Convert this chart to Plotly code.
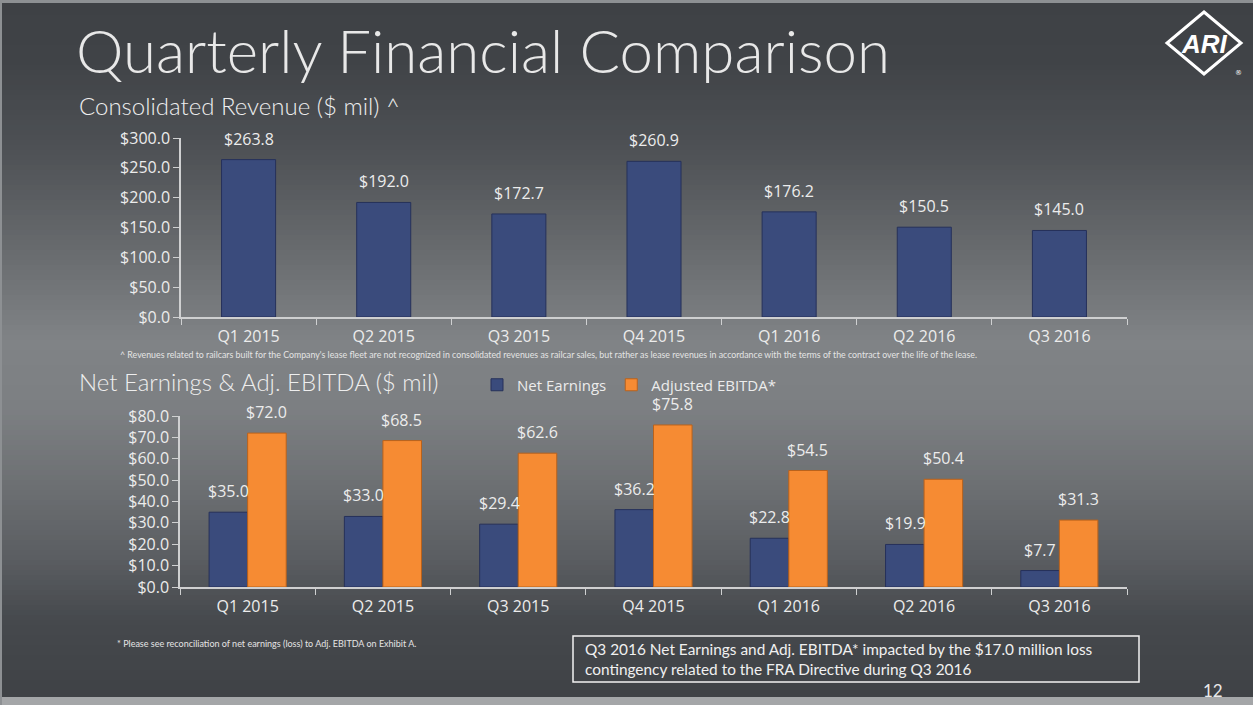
import plotly.graph_objects as go

quarters = ["Q1 2015", "Q2 2015", "Q3 2015", "Q4 2015", "Q1 2016", "Q2 2016", "Q3 2016"]
revenue = [263.8, 192.0, 172.7, 260.9, 176.2, 150.5, 145.0]
net_earnings = [35.0, 33.0, 29.4, 36.2, 22.8, 19.9, 7.7]
adj_ebitda = [72.0, 68.5, 62.6, 75.8, 54.5, 50.4, 31.3]
rev_ticks = [0, 50, 100, 150, 200, 250, 300]
earn_ticks = [0, 10, 20, 30, 40, 50, 60, 70, 80]

W, H = 1253, 705
NAVY = "#3a4b7c"
NAVY_LINE = "#26315a"
ORANGE = "#f68b33"
ORANGE_LINE = "#b9621c"
TXT = "#ececec"
AXC = "#cfd0d1"
TICKFONT = dict(family="Open Sans", size=16, color=TXT)
HEADFONT = "Lato"


def py(px):
    return 1 - px / H


def px_x(px):
    return px / W


fig = go.Figure()

fig.add_trace(go.Bar(
    x=quarters, y=revenue, xaxis="x", yaxis="y", showlegend=False,
    width=0.4, marker=dict(color=NAVY, line=dict(color=NAVY_LINE, width=1)),
    hoverinfo="skip"))
fig.add_trace(go.Bar(
    x=quarters, y=net_earnings, xaxis="x2", yaxis="y2", name="Net Earnings",
    width=0.285, offset=-0.285,
    marker=dict(color=NAVY, line=dict(color=NAVY_LINE, width=1))))
fig.add_trace(go.Bar(
    x=quarters, y=adj_ebitda, xaxis="x2", yaxis="y2", name="Adjusted EBITDA*",
    width=0.285, offset=0.0,
    marker=dict(color=ORANGE, line=dict(color=ORANGE_LINE, width=1))))

ann = []
for q, v in zip(quarters, revenue):
    ann.append(dict(x=q, y=v, xref="x", yref="y", text=f"${v:.1f}", showarrow=False,
                    yanchor="bottom", yshift=8, font=TICKFONT))
for q, v in zip(quarters, net_earnings):
    ann.append(dict(x=q, y=v, xref="x2", yref="y2", text=f"${v:.1f}", showarrow=False,
                    yanchor="bottom", yshift=8, xshift=-19, font=TICKFONT))
for q, v in zip(quarters, adj_ebitda):
    ann.append(dict(x=q, y=v, xref="x2", yref="y2", text=f"${v:.1f}", showarrow=False,
                    yanchor="bottom", yshift=8, xshift=19, font=TICKFONT))

# slide texts
ann += [
    dict(x=px_x(74), y=py(50), xref="paper", yref="paper", xanchor="left", yanchor="middle",
         text="Quarterly Financial Comparison", showarrow=False,
         font=dict(family=HEADFONT, size=60, color="#e8e8e8", weight=300)),
    dict(x=px_x(77), y=py(105), xref="paper", yref="paper", xanchor="left", yanchor="middle",
         text="Consolidated Revenue ($ mil) ^", showarrow=False,
         font=dict(family=HEADFONT, size=24, color="#eeeeee", weight=300)),
    dict(x=px_x(77), y=py(381), xref="paper", yref="paper", xanchor="left", yanchor="middle",
         text="Net Earnings &amp; Adj. EBITDA ($ mil)", showarrow=False,
         font=dict(family=HEADFONT, size=24, color="#eeeeee", weight=300)),
    dict(x=px_x(548), y=py(355), xref="paper", yref="paper", xanchor="center", yanchor="middle",
         text="^ Revenues related to railcars built for the Company's lease fleet are not recognized in consolidated revenues as railcar sales, but rather as lease revenues in accordance with the terms of the contract over the life of the lease.",
         showarrow=False, font=dict(family=HEADFONT, size=8.8, color="#e4e4e4")),
    dict(x=px_x(115), y=py(643), xref="paper", yref="paper", xanchor="left", yanchor="middle",
         text="* Please see reconciliation of net earnings (loss) to Adj. EBITDA on Exhibit A.",
         showarrow=False, font=dict(family=HEADFONT, size=9, color="#e4e4e4")),
    dict(x=px_x(583), y=py(659), xref="paper", yref="paper", xanchor="left", yanchor="middle",
         align="left",
         text="Q3 2016 Net Earnings and Adj. EBITDA* impacted by the $17.0 million loss<br>contingency related to the FRA Directive during Q3 2016",
         showarrow=False, font=dict(family=HEADFONT, size=15.4, color="#f0f0f0")),
    dict(x=px_x(1213), y=py(690), xref="paper", yref="paper", xanchor="center", yanchor="middle",
         text="12", showarrow=False, font=dict(family=HEADFONT, size=17, color="#e8e8e8")),
    dict(x=px_x(1204), y=py(44), xref="paper", yref="paper", xanchor="center", yanchor="middle",
         text="<b><i>ARI</i></b>", showarrow=False,
         font=dict(family="Liberation Sans", size=26, color="#ffffff")),
    dict(x=px_x(1238), y=py(73), xref="paper", yref="paper", xanchor="center", yanchor="middle",
         text="®", showarrow=False, font=dict(family="DejaVu Sans", size=7, color="#ffffff")),
]

# background gradient (style only)
stops = [(0, (62, 65, 69)), (60, (64, 67, 71)), (150, (78, 81, 85)), (250, (104, 107, 110)),
         (340, (128, 131, 134)), (410, (124, 127, 130)), (480, (110, 113, 116)),
         (560, (90, 93, 97)), (620, (70, 73, 77)), (705, (62, 65, 69))]


def col_at(y):
    for (y0, c0), (y1, c1) in zip(stops[:-1], stops[1:]):
        if y0 <= y <= y1:
            t = (y - y0) / (y1 - y0)
            c = [round(a + (b - a) * t) for a, b in zip(c0, c1)]
            return "rgb(%d,%d,%d)" % tuple(c)
    return "rgb(62,65,69)"


shapes = []
step = 5
for y in range(0, H, step):
    shapes.append(dict(type="rect", xref="paper", yref="paper", x0=0, x1=1,
                       y0=py(y + step + 0.5), y1=py(y), fillcolor=col_at(y + step / 2),
                       line=dict(width=0), layer="below"))
# slide edges
shapes.append(dict(type="rect", xref="paper", yref="paper", x0=0, x1=1, y0=py(3), y1=1,
                   fillcolor="#8d9093", line=dict(width=0), layer="below"))
shapes.append(dict(type="rect", xref="paper", yref="paper", x0=0, x1=1, y0=0, y1=py(697),
                   fillcolor="#a4a6a8", line=dict(width=0), layer="below"))
shapes.append(dict(type="rect", xref="paper", yref="paper", x0=0, x1=px_x(2), y0=0, y1=1,
                   fillcolor="#8d9093", line=dict(width=0), layer="below"))
# note box
shapes.append(dict(type="rect", xref="paper", yref="paper", x0=px_x(573), x1=px_x(1139),
                   y0=py(682), y1=py(636), line=dict(color="#f2f2f2", width=1.5)))
# logo diamond
cx, cy, hw, hh = 1204, 43, 37, 31
path = "M %f %f L %f %f L %f %f L %f %f Z" % (
    px_x(cx), py(cy - hh), px_x(cx + hw), py(cy), px_x(cx), py(cy + hh), px_x(cx - hw), py(cy))
shapes.append(dict(type="path", xref="paper", yref="paper", path=path,
                   line=dict(color="#ffffff", width=3)))

xcommon = dict(type="category", showline=True, linecolor=AXC, linewidth=1.5,
               ticks="outside", tickson="boundaries", ticklen=6, tickcolor=AXC,
               tickfont=TICKFONT, showgrid=False, zeroline=False, range=[-0.5, 6.5],
               ticklabelstandoff=4, fixedrange=True, automargin=False)
ycommon = dict(tickformat="$.1f", showline=True, linecolor=AXC, linewidth=1.5,
               ticks="outside", ticklen=6, tickcolor=AXC, tickfont=TICKFONT,
               showgrid=False, zeroline=False, fixedrange=True, automargin=False)

fig.update_layout(
    template="none",
    width=W, height=H, autosize=False,
    margin=dict(l=0, r=0, t=0, b=0, pad=0),
    paper_bgcolor="#404347", plot_bgcolor="rgba(0,0,0,0)",
    barmode="overlay",
    xaxis=dict(domain=[px_x(181), px_x(1127)], anchor="y", **xcommon),
    yaxis=dict(domain=[py(317), py(138)], anchor="x", range=[0, 300], tickvals=rev_ticks, **ycommon),
    xaxis2=dict(domain=[px_x(180), px_x(1127)], anchor="y2", **xcommon),
    yaxis2=dict(domain=[py(587), py(416)], anchor="x2", range=[0, 80], tickvals=earn_ticks, **ycommon),
    legend=dict(orientation="h", x=px_x(477), y=py(385), xanchor="left", yanchor="middle",
                bgcolor="rgba(0,0,0,0)", font=dict(family="Open Sans", size=15, color=TXT),
                itemwidth=30, traceorder="normal"),
    annotations=ann,
    shapes=shapes,
)

fig.write_html("out.html")
